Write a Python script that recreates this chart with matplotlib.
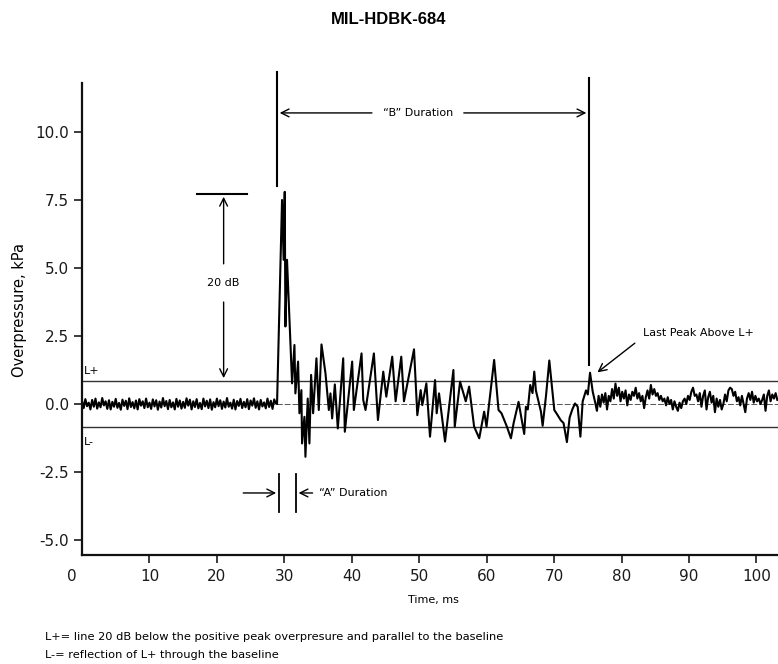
import numpy as np
import matplotlib
matplotlib.use("Agg")
import matplotlib.pyplot as plt
import matplotlib.transforms as mtransforms

# ---------------- data ----------------
pre_dt = 0.25
pre_v = [0.12,-0.15,0.18,-0.08,0.05,-0.2,0.15,-0.1,0.2,-0.17,0.06,-0.12,0.22,-0.05,0.1,-0.18,0.14,-0.2,0.08,-0.1,
         0.19,-0.14,0.04,-0.21,0.16,-0.07,0.12,-0.19,0.21,-0.11,0.07,-0.16,0.13,-0.2,0.18,-0.06,0.1,-0.15,0.2,-0.12,
         0.05,-0.18,0.17,-0.09,0.14,-0.21,0.09,-0.13,0.22,-0.08,0.11,-0.19,0.15,-0.12,0.06,-0.2,0.19,-0.1,0.13,-0.17,
         0.08,-0.14,0.21,-0.06,0.16,-0.2,0.1,-0.11,0.18,-0.16,0.04,-0.19,0.2,-0.09,0.12,-0.15,0.17,-0.21,0.07,-0.12,
         0.2,-0.08,0.14,-0.18,0.09,-0.13,0.22,-0.1,0.05,-0.17,0.16,-0.2,0.11,-0.07,0.19,-0.15,0.08,-0.12,0.18,-0.19,
         0.13,-0.06,0.21,-0.14,0.1,-0.2,0.15,-0.09,0.06,-0.16,0.2,-0.11,0.12,-0.18,0.17,0.02]

main_t = [28.92, 29.66, 29.9, 30.06, 30.16, 30.4, 31.15, 31.5, 31.64, 32.04, 32.24, 32.53, 32.63, 32.98, 33.13,
          33.47, 33.72, 33.97, 34.27, 34.76, 35.11, 35.51, 36.1, 36.6, 36.84, 37.09, 37.49, 37.93, 38.73, 38.97,
          40.06, 40.31, 41.45, 41.7, 42.04, 43.28, 43.88, 44.67, 45.12, 46.0, 46.5, 47.34, 47.74, 49.23, 49.72,
          50.22, 50.46, 51.06, 51.6, 52.35, 52.59, 52.94, 53.83, 55.07, 55.27, 56.06, 56.9, 57.4, 58.14, 58.9,
          59.63, 59.98, 61.11, 61.76, 62.2, 63.0, 63.6, 64.0, 64.73, 65.57, 65.82, 66.1, 66.46, 66.8, 67.06,
          67.3, 68.05, 68.3, 68.8, 69.29, 70.03, 70.5, 71.0, 71.4, 71.9, 72.3, 72.7, 73.1, 73.5, 73.9,
          74.24, 74.73, 75.0, 75.33, 75.73, 76.1]
main_v = [0.0, 7.5, 5.3, 7.8, 2.85, 5.3, 0.76, 2.17, 0.39, 1.56, -0.34, 0.51, -1.45, -0.47, -1.94,
          0.2, -1.45, 1.07, -0.34, 1.68, -0.22, 2.19, 1.13, -0.22, 0.39, -0.53, 0.72, -0.9, 1.68, -1.02,
          1.56, -0.22, 1.86, 0.15, -0.22, 1.86, -0.59, 1.19, 0.27, 1.74, 0.1, 1.74, 0.1, 2.01, -0.41,
          0.51, -0.04, 0.76, -1.2, 0.88, -0.34, 0.39, -1.38, 1.25, -0.83, 0.82, 0.1, 0.64, -0.83, -1.26,
          -0.28, -0.83, 1.62, -0.22, -0.34, -0.83, -1.26, -0.7, 0.08, -1.1, -0.1, -0.2, 0.7, 0.4, 1.19,
          0.5, -0.28, -0.8, 0.3, 1.6, -0.22, -0.4, -0.6, -0.7, -1.4, -0.5, -0.2, 0.02, -0.1, -1.2,
          0.1, 0.5, 0.35, 1.15, 0.45, 0.05]

tail_t0 = 76.35
tail_dt = 0.25
tail_v = [-0.25, 0.3, -0.1, 0.35, 0.05, 0.4, -0.2, 0.3, 0.1, 0.55, 0.2, 0.75, 0.3, 0.6, 0.1, 0.45, 0.2, 0.5, -0.05, 0.35,
          0.15, 0.45, 0.3, 0.6, 0.2, 0.4, 0.1, 0.3, -0.15, 0.25, 0.5, 0.2, 0.7, 0.35, 0.55, 0.3, 0.4, 0.15, 0.3, 0.1,
          0.2, -0.05, 0.25, 0.0, 0.15, -0.2, 0.1, -0.1, -0.25, 0.05, -0.15, 0.1, 0.2, 0.0, 0.3, 0.15, 0.45, 0.6, 0.3, 0.35,
          0.1, 0.4, -0.1, 0.3, 0.5, -0.2, 0.25, 0.45, 0.05, 0.3, -0.3, 0.2, -0.1, 0.15, -0.2, 0.0, 0.35, 0.1, 0.5, 0.6,
          0.55, 0.3, 0.45, 0.1, 0.25, -0.05, 0.3, 0.0, -0.3, 0.2, 0.4, 0.15, 0.45, 0.05, 0.3, 0.1, 0.2, 0.0, 0.15, 0.35,
          -0.25, 0.3, 0.5, 0.1, 0.35, 0.2, 0.4, 0.15]

l_plus = 0.85
l_minus = -0.85
peak_level = 7.72
b_start = 28.9
b_end = 75.2
a_start = 29.2
a_end = 31.7

x_ticks = [0, 10, 20, 30, 40, 50, 60, 70, 80, 90, 100]
y_ticks = [-5.0, -2.5, 0.0, 2.5, 5.0, 7.5, 10.0]
y_labels = ["-5.0", "-2.5", "0.0", "2.5", "5.0", "7.5", "10.0"]

# ---------------- figure ----------------
W, H = 778, 664
fig = plt.figure(figsize=(W / 100, H / 100), dpi=100)
ax = fig.add_axes([82 / W, 1 - 555 / H, 1 - 82 / W, (555 - 83) / H])
ax.set_xlim(0, 103.2)
ax.set_ylim(-5.55, 11.8)
for s in ("top", "right"):
    ax.spines[s].set_visible(False)
for s in ("left", "bottom"):
    ax.spines[s].set_linewidth(1.6)
    ax.spines[s].set_color("#111111")

ax.set_xticks(x_ticks)
ax.set_xticklabels([str(v) for v in x_ticks])
ax.set_yticks(y_ticks)
ax.set_yticklabels(y_labels)
ax.tick_params(direction="out", length=6, width=1.2, labelsize=11, colors="#1a1a1a")
ax.tick_params(axis="x", pad=4)
lbl0 = ax.get_xticklabels()[0]
lbl0.set_transform(lbl0.get_transform() + mtransforms.ScaledTranslation(-10 / 100, 0, fig.dpi_scale_trans))
ax.xaxis.get_major_ticks()[0].tick1line.set_visible(False)

fig.text(433 / W, 1 - 600 / H, "Time, ms", ha="center", va="center", fontsize=8, family="DejaVu Sans")
fig.text(20 / W, 1 - 310 / H, "Overpressure, kPa", ha="center", va="center", rotation=90,
         fontsize=10.5, family="DejaVu Sans")

# reference lines
ax.axhline(l_plus, color="#333333", lw=1.0)
ax.axhline(l_minus, color="#333333", lw=1.0)
ax.axhline(0.0, color="#555555", lw=0.7, ls=(0, (6, 2)))

# waveform
pre_t = np.arange(len(pre_v)) * pre_dt
tail_t = tail_t0 + np.arange(len(tail_v)) * tail_dt
t_all = np.concatenate([pre_t, main_t, tail_t])
v_all = np.concatenate([pre_v, main_v, tail_v])
ax.plot(t_all, v_all, color="black", lw=1.5)

txt = dict(fontsize=8, family="DejaVu Sans", color="black")
arr = dict(arrowstyle="->", color="black", lw=1.0, mutation_scale=14)

# B duration
ax.plot([b_start, b_start], [8.0, 12.2], color="black", lw=1.5, clip_on=False)
ax.plot([b_end, b_end], [1.43, 12.0], color="black", lw=1.5, clip_on=False)
ax.annotate("", xy=(b_start, 10.7), xytext=(43.4, 10.7), arrowprops=arr)
ax.annotate("", xy=(b_end, 10.7), xytext=(56.2, 10.7), arrowprops=arr)
ax.text(49.8, 10.7, "\u201cB\u201d Duration", ha="center", va="center", **txt)

# 20 dB
ax.plot([17.0, 24.4], [peak_level, peak_level], color="black", lw=1.5)
ax.annotate("", xy=(21.0, peak_level), xytext=(21.0, 5.05), arrowprops=arr)
ax.annotate("", xy=(21.0, l_plus), xytext=(21.0, 3.85), arrowprops=arr)
ax.text(21.0, 4.45, "20 dB", ha="center", va="center", **txt)

# A duration
ax.plot([a_start, a_start], [-2.57, -3.97], color="black", lw=1.3)
ax.plot([a_end, a_end], [-2.57, -3.97], color="black", lw=1.3)
ax.annotate("", xy=(a_start, -3.27), xytext=(23.5, -3.27), arrowprops=arr)
ax.annotate("", xy=(a_end, -3.27), xytext=(34.6, -3.27), arrowprops=arr)
ax.text(35.2, -3.27, "\u201cA\u201d Duration", ha="left", va="center", **txt)

# L+ / L- labels
ax.text(0.3, 1.2, "L+", ha="left", va="center", **txt)
ax.text(0.3, -1.4, "L-", ha="left", va="center", **txt)

# Last peak
ax.annotate("", xy=(76.1, 1.1), xytext=(82.3, 2.3), arrowprops=arr)
ax.text(83.2, 2.62, "Last Peak Above L+", ha="left", va="center", **txt)

# title and footnotes
fig.text(389 / W, 1 - 19 / H, "MIL-HDBK-684", ha="center", va="center",
         fontsize=12, fontweight="bold", family="Liberation Sans")
fig.text(45 / W, 1 - 637 / H, "L+= line 20 dB below the positive peak overpresure and parallel to the baseline",
         ha="left", va="center", fontsize=8.2, family="DejaVu Sans")
fig.text(45 / W, 1 - 655 / H, "L-= reflection of L+ through the baseline",
         ha="left", va="center", fontsize=8.2, family="DejaVu Sans")

fig.savefig("out.png", dpi=100)
